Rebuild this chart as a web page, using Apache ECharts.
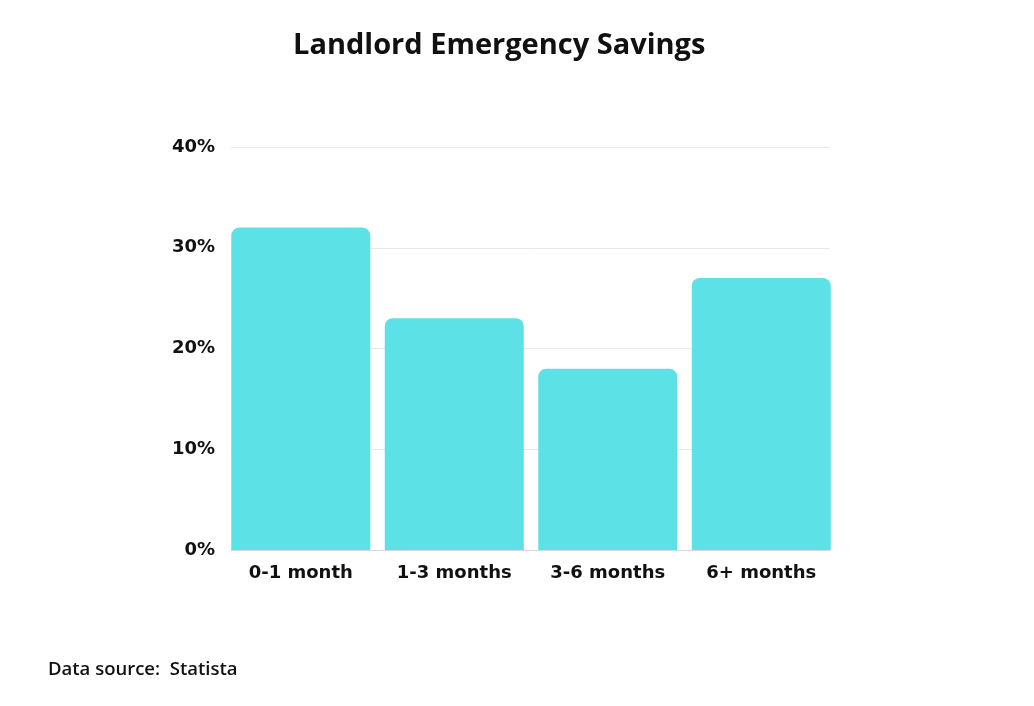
<!DOCTYPE html>
<html>
<head>
<meta charset="utf-8">
<script src="https://cdn.jsdelivr.net/npm/echarts@6/dist/echarts.min.js"></script>
<style>
    html, body { margin: 0; padding: 0; background: #fff; }
    #chart { width: 1034px; height: 706px; }
</style>
</head>
<body>
<div id="chart"></div>
<script>
var categories = ['0-1 month', '1-3 months', '3-6 months', '6+ months'];
var savings = [32, 23, 18, 27];
var yTicks = [0, 10, 20, 30, 40];

var myChart = echarts.init(document.getElementById('chart'));

var labelFont = {
    color: '#111',
    fontFamily: 'DejaVu Sans',
    fontWeight: 'bold',
    fontSize: 18
};

var option = {
    backgroundColor: '#fff',
    title: [{
        text: 'Landlord Emergency Savings',
        left: 288,
        top: 26,
        textStyle: {
            color: '#111',
            fontFamily: 'Open Sans',
            fontWeight: 'bold',
            fontSize: 29
        }
    }, {
        text: 'Data source:  Statista',
        left: 43,
        top: 655,
        textStyle: {
            color: '#111',
            fontFamily: 'Open Sans',
            fontWeight: 600,
            fontSize: 18.5
        }
    }],
    // grid 0: gridlines + y labels, grid 1: bars
    grid: [{
        left: 231,
        right: 204,
        top: 147,
        bottom: 156
    }, {
        left: 224,
        right: 196,
        top: 147,
        bottom: 156
    }],
    xAxis: [{
        type: 'category',
        gridIndex: 0,
        data: categories,
        axisTick: { show: false },
        axisLabel: { show: false },
        axisLine: {
            lineStyle: { color: '#d9d9d9', width: 1 }
        }
    }, {
        type: 'category',
        gridIndex: 1,
        data: categories,
        axisTick: { show: false },
        axisLine: { show: false },
        axisLabel: Object.assign({ margin: 14 }, labelFont)
    }],
    yAxis: [{
        type: 'value',
        gridIndex: 0,
        min: yTicks[0],
        max: yTicks[yTicks.length - 1],
        interval: 10,
        axisLine: { show: false },
        axisTick: { show: false },
        axisLabel: Object.assign({
            margin: 16,
            formatter: '{value}%'
        }, labelFont),
        splitLine: {
            lineStyle: { color: '#e8e8e8', width: 1 }
        }
    }, {
        type: 'value',
        gridIndex: 1,
        min: yTicks[0],
        max: yTicks[yTicks.length - 1],
        interval: 10,
        show: false,
        splitLine: { show: false }
    }],
    series: [{
        type: 'bar',
        xAxisIndex: 1,
        yAxisIndex: 1,
        barWidth: 139,
        itemStyle: {
            color: '#5ce1e6',
            borderRadius: [8, 8, 0, 0]
        },
        data: savings
    }]
};

myChart.setOption(option);
</script>
</body>
</html>
